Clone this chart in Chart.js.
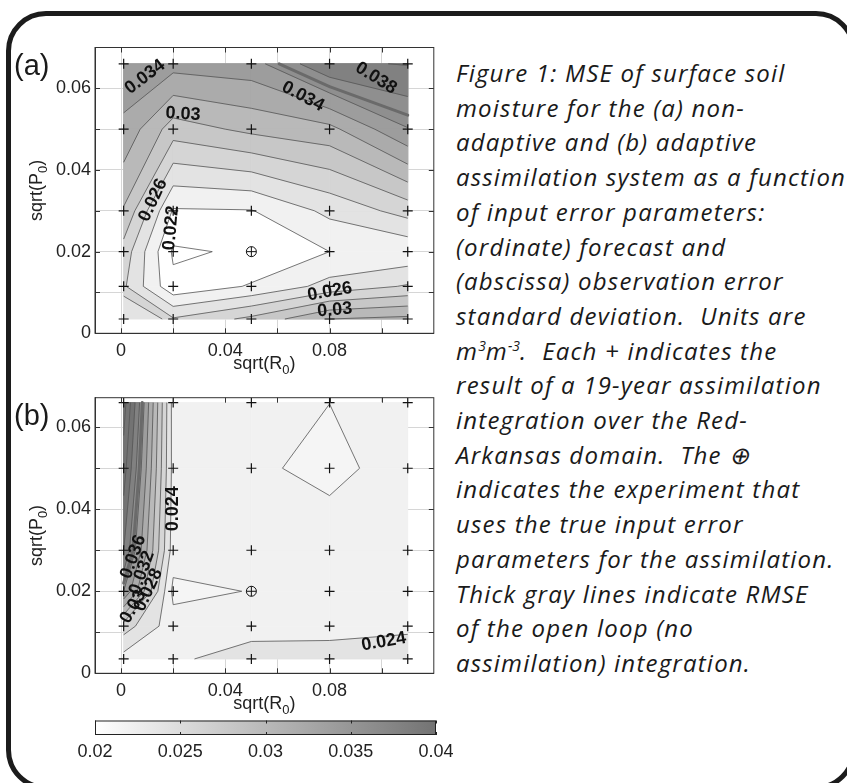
<!DOCTYPE html>
<html>
<head>
<meta charset="utf-8">
<script src="https://cdn.jsdelivr.net/npm/chart.js@4.4.0/dist/chart.umd.min.js"></script>
<style>
  html, body { margin: 0; padding: 0; background: #fff; overflow: hidden; }
  #page { position: absolute; left: 0; top: 0; width: 847px; height: 783px; overflow: hidden; }
  #frame { position: absolute; left: 0; top: 0; }
  canvas { position: absolute; left: 0; }
  #cA { top: 0; } #cB { top: 350px; } #cBar { top: 700px; }
  #caption { position: absolute; left: 456px; top: 56px; font-family: "Open Sans", sans-serif; font-style: italic;
             font-size: 24px; letter-spacing: 1.2px; line-height: 34.7px; color: #1a1a1a; white-space: pre; }
  #caption sup { font-size: 14px; line-height: 0; vertical-align: 9px; letter-spacing: 0; }
</style>
</head>
<body>
<div id="page">
<svg id="frame" width="847" height="783"><rect x="8.5" y="13.5" width="845" height="774" rx="37.5" ry="37.5" fill="none" stroke="#1c1c1c" stroke-width="5"/></svg>
<canvas id="cA" width="440" height="380"></canvas>
<canvas id="cB" width="440" height="380"></canvas>
<canvas id="cBar" width="480" height="70"></canvas>
<div id="caption"><div>Figure 1: MSE of surface soil</div><div>moisture for the (a) non-</div><div>adaptive and (b) adaptive</div><div>assimilation system as a function</div><div>of input error parameters:</div><div>(ordinate) forecast and</div><div>(abscissa) observation error</div><div>standard deviation.  Units are</div><div>m<sup>3</sup>m<sup>-3</sup>.  Each + indicates the</div><div>result of a 19-year assimilation</div><div>integration over the Red-</div><div>Arkansas domain.  The ⊕</div><div>indicates the experiment that</div><div>uses the true input error</div><div>parameters for the assimilation.</div><div>Thick gray lines indicate RMSE</div><div>of the open loop (no</div><div>assimilation) integration.</div></div>
</div>
<script>
// experiment grid: sqrt(R0) (abscissa) and sqrt(P0) (ordinate)
const xNodes = [0.001, 0.02, 0.05, 0.08, 0.11];
const yNodes = [0.0035, 0.0115, 0.02, 0.03, 0.05, 0.066];
const trueR = 0.05, trueP = 0.02;

// MSE, one row per sqrt(P0) value (bottom to top), columns follow xNodes
// (a) non-adaptive
const mseA_p0035 = [0.0253, 0.0262, 0.0285, 0.0320, 0.0325];
const mseA_p0115 = [0.0263, 0.0205, 0.0222, 0.0247, 0.0262];
const mseA_p020  = [0.0272, 0.0197, 0.0203, 0.0220, 0.0224];
const mseA_p030  = [0.0298, 0.0218, 0.0219, 0.0245, 0.0268];
const mseA_p050  = [0.0335, 0.0290, 0.0305, 0.0314, 0.0359];
const mseA_p066  = [0.0355, 0.0348, 0.0352, 0.0397, 0.0401];
// (b) adaptive
const mseB_p0035 = [0.0232, 0.0237, 0.0248, 0.0249, 0.0252];
const mseB_p0115 = [0.0270, 0.0228, 0.0233, 0.0233, 0.0236];
const mseB_p020  = [0.0360, 0.0215, 0.02207, 0.0228, 0.0232];
const mseB_p030  = [0.0400, 0.0230, 0.0228, 0.0230, 0.0232];
const mseB_p050  = [0.0430, 0.0233, 0.02233, 0.0215, 0.0228];
const mseB_p066  = [0.0450, 0.0232, 0.0226, 0.02201, 0.0228];

const contourLevels = [0.020, 0.022, 0.024, 0.026, 0.028, 0.030, 0.032, 0.034, 0.036, 0.038, 0.040, 0.042, 0.044, 0.046];
const openLoop = 0.0368;

// tick labels
const xGridLines = [0, 0.02, 0.04, 0.06, 0.08, 0.10];
const xTickLabels = [0, 0.04, 0.08];
const yGridLines = [0, 0.01, 0.02, 0.03, 0.04, 0.05, 0.06];
const yTickLabels = [0, 0.02, 0.04, 0.06];
const colorbarTicks = [0.02, 0.025, 0.03, 0.035, 0.04];

// contour labels (text, x, y, angle)
const labelsA = [
  ['0.034', 0.0092, 0.0628, -37], ['0.034', 0.0698, 0.0580, 28], ['0.038', 0.0978, 0.0625, 32],
  ['0.03', 0.0238, 0.0537, 3], ['0.026', 0.0123, 0.0326, -65], ['0.022', 0.0192, 0.0258, -85],
  ['0.026', 0.0801, 0.0102, -10], ['0.03', 0.082, 0.0057, -5]
];
const labelsB = [
  ['0.024', 0.0199, 0.0401, -90], ['0.024', 0.1008, 0.0077, -10],
  ['0.036', 0.0047, 0.0284, -70], ['0.032', 0.008, 0.0245, -70], ['0.028', 0.0105, 0.0203, -65], ['0.03', 0.0047, 0.0162, -60]
];

Chart.defaults.font.family = '"Liberation Sans", Arial, sans-serif';
Chart.defaults.color = '#222';

const shade = v => {
  const g = Math.round(Math.max(115, Math.min(255, 255 - (v - 0.02) * 7000)));
  return `rgb(${g},${g},${g})`;
};
const near = (list, v) => list.some(t => Math.abs(t - v) < 1e-9);
const fmt = v => v === 0 ? '0' : String(+v.toFixed(3));

// part of a grid cell where the field is >= L (edges interpolated linearly, as contourf does)
function clipAbove(cell, L) {
  const out = [];
  for (let k = 0; k < cell.length; k++) {
    const a = cell[k], b = cell[(k + 1) % cell.length];
    const ain = a.v >= L, bin = b.v >= L;
    if (ain) out.push(a);
    if (ain !== bin) {
      const s = (L - a.v) / (b.v - a.v);
      out.push({ px: a.px + s * (b.px - a.px), py: a.py + s * (b.py - a.py), v: L, cut: true });
    }
  }
  return out;
}
// contour segments = consecutive cut points of the clipped polygon
function segments(cell, L) {
  const p = clipAbove(cell, L), segs = [];
  if (p.length < 3) return segs;
  for (let k = 0; k < p.length; k++) {
    const a = p[k], b = p[(k + 1) % p.length];
    if (a.cut && b.cut) segs.push([a, b]);
  }
  return segs;
}

function drawTitle(ctx, x, y, rot, main, sub) {
  ctx.save();
  ctx.translate(x, y); ctx.rotate(rot);
  ctx.fillStyle = '#222'; ctx.textBaseline = 'alphabetic';
  ctx.font = '18px "Liberation Sans", Arial';
  const w1 = ctx.measureText(main).width, w2 = ctx.measureText(')').width;
  ctx.font = '13px "Liberation Sans", Arial';
  const ws = ctx.measureText(sub).width;
  let cx = -(w1 + ws + w2) / 2;
  ctx.font = '18px "Liberation Sans", Arial';
  ctx.fillText(main, cx, 6); cx += w1;
  ctx.font = '13px "Liberation Sans", Arial';
  ctx.fillText(sub, cx, 11); cx += ws;
  ctx.font = '18px "Liberation Sans", Arial';
  ctx.fillText(')', cx, 6);
  ctx.restore();
}

function contourPlugin(rows, notes, tag) {
  return {
    id: 'contour',
    beforeDatasetsDraw(chart) {
      const ctx = chart.ctx, sx = chart.scales.x, sy = chart.scales.y;
      const nodes = rows.map((row, j) => row.map((v, i) => ({ px: sx.getPixelForValue(xNodes[i]), py: sy.getPixelForValue(yNodes[j]), v })));
      const cells = [];
      for (let j = 0; j < nodes.length - 1; j++) {
        for (let i = 0; i < xNodes.length - 1; i++) {
          cells.push([nodes[j][i], nodes[j][i + 1], nodes[j + 1][i + 1], nodes[j + 1][i]]);
        }
      }
      ctx.save();
      // base fill takes the colour of the field minimum, like contourf
      const vMin = Math.min(...rows.flat());
      const x0 = nodes[0][0].px, x1 = nodes[0][xNodes.length - 1].px;
      const y0 = nodes[0][0].py, y1 = nodes[nodes.length - 1][0].py;
      ctx.fillStyle = shade(vMin);
      ctx.fillRect(x0, y1, x1 - x0, y0 - y1);
      contourLevels.filter(L => L > vMin).forEach(L => {
        ctx.fillStyle = ctx.strokeStyle = shade(L);
        ctx.lineWidth = 0.7;
        cells.forEach(c => {
          const p = clipAbove(c, L);
          if (p.length < 3) return;
          ctx.beginPath();
          p.forEach((q, k) => k ? ctx.lineTo(q.px, q.py) : ctx.moveTo(q.px, q.py));
          ctx.closePath(); ctx.fill(); ctx.stroke();
        });
      });
      // contour lines
      ctx.strokeStyle = '#555'; ctx.lineWidth = 0.8;
      ctx.beginPath();
      contourLevels.forEach(L => cells.forEach(c => segments(c, L).forEach(([a, b]) => {
        ctx.moveTo(a.px, a.py); ctx.lineTo(b.px, b.py);
      })));
      ctx.stroke();
      // open loop line
      ctx.strokeStyle = '#6a6a6a'; ctx.lineWidth = 3; ctx.lineCap = 'round';
      ctx.beginPath();
      cells.forEach(c => segments(c, openLoop).forEach(([a, b]) => {
        ctx.moveTo(a.px, a.py); ctx.lineTo(b.px, b.py);
      }));
      ctx.stroke();
      // labels
      ctx.fillStyle = '#111'; ctx.font = 'bold 18px "Liberation Sans", Arial';
      ctx.textAlign = 'center'; ctx.textBaseline = 'middle';
      notes.forEach(([t, x, y, a]) => {
        ctx.save();
        ctx.translate(sx.getPixelForValue(x), sy.getPixelForValue(y));
        ctx.rotate(a * Math.PI / 180);
        ctx.fillText(t, 0, 0);
        ctx.restore();
      });
      ctx.restore();
    },
    afterDraw(chart) {
      const ctx = chart.ctx, a = chart.chartArea, sx = chart.scales.x, sy = chart.scales.y;
      ctx.save();
      ctx.strokeStyle = '#333'; ctx.lineWidth = 1;
      ctx.strokeRect(a.left, a.top, a.right - a.left, a.bottom - a.top);
      ctx.beginPath();
      xGridLines.forEach(v => {
        const p = Math.round(sx.getPixelForValue(v)) + 0.5;
        ctx.moveTo(p, a.bottom); ctx.lineTo(p, a.bottom - 5);
        ctx.moveTo(p, a.top); ctx.lineTo(p, a.top + 5);
      });
      yGridLines.forEach(v => {
        const p = Math.round(sy.getPixelForValue(v)) + 0.5;
        ctx.moveTo(a.left, p); ctx.lineTo(a.left + 5, p);
        ctx.moveTo(a.right, p); ctx.lineTo(a.right - 5, p);
      });
      ctx.stroke();
      drawTitle(ctx, (a.left + a.right) / 2, a.bottom + 30, 0, 'sqrt(R', '0');
      drawTitle(ctx, 36, (a.top + a.bottom) / 2, -Math.PI / 2, 'sqrt(P', '0');
      ctx.fillStyle = '#1a1a1a'; ctx.font = '29px "Liberation Sans", Arial';
      ctx.textAlign = 'left'; ctx.textBaseline = 'alphabetic';
      ctx.fillText(tag, 14, a.top + 27);
      ctx.restore();
    }
  };
}

function panelChart(id, rows, notes, tag, yMax, padTop, xHeight) {
  const crosses = [];
  yNodes.forEach(y => xNodes.forEach(x => { if (!(x === trueR && y === trueP)) crosses.push({ x, y }); }));
  return new Chart(document.getElementById(id), {
    type: 'scatter',
    data: {
      datasets: [
        { data: crosses, pointStyle: 'cross', radius: 5, borderColor: '#111', borderWidth: 1.2 },
        { data: [{ x: trueR, y: trueP }], pointStyle: 'circle', radius: 5, borderColor: '#111', borderWidth: 1, backgroundColor: 'rgba(0,0,0,0)' },
        { data: [{ x: trueR, y: trueP }], pointStyle: 'cross', radius: 5, borderColor: '#111', borderWidth: 1 }
      ]
    },
    options: {
      responsive: false, animation: false, events: [],
      layout: { padding: { top: padTop, right: 6, left: 0, bottom: 0 } },
      plugins: { legend: { display: false }, tooltip: { enabled: false } },
      scales: {
        x: {
          type: 'linear', min: -0.01, max: 0.12,
          afterBuildTicks: s => { s.ticks = xGridLines.map(v => ({ value: v })); },
          afterFit: s => { s.height = xHeight; },
          ticks: { callback: v => near(xTickLabels, v) ? fmt(v) : '', font: { size: 18 }, padding: 7, maxRotation: 0, autoSkip: false },
          grid: { color: '#d6d6d6', drawTicks: false },
          border: { color: '#333' }
        },
        y: {
          type: 'linear', min: 0, max: yMax,
          afterBuildTicks: s => { s.ticks = yGridLines.map(v => ({ value: v })); },
          afterFit: s => { s.width = 95; },
          ticks: { callback: v => near(yTickLabels, v) ? fmt(v) : '', font: { size: 18 }, padding: 4, autoSkip: false },
          grid: { color: '#d6d6d6', drawTicks: false },
          border: { color: '#333' }
        }
      }
    },
    plugins: [contourPlugin(rows, notes, tag)]
  });
}

panelChart('cA', [mseA_p0035, mseA_p0115, mseA_p020, mseA_p030, mseA_p050, mseA_p066], labelsA, '(a)', 0.07, 47.5, 46.7);
panelChart('cB', [mseB_p0035, mseB_p0115, mseB_p020, mseB_p030, mseB_p050, mseB_p066], labelsB, '(b)', 0.0672, 47.7, 56.7);

// colorbar
new Chart(document.getElementById('cBar'), {
  type: 'scatter',
  data: { datasets: [{ data: [] }] },
  options: {
    responsive: false, animation: false, events: [],
    layout: { padding: { top: 20.5, right: 44, left: 95, bottom: 0 } },
    plugins: { legend: { display: false }, tooltip: { enabled: false } },
    scales: {
      x: {
        type: 'linear', min: 0.02, max: 0.04,
        afterBuildTicks: s => { s.ticks = colorbarTicks.map(v => ({ value: v })); },
        afterFit: s => { s.height = 35; },
        ticks: { callback: v => fmt(v), font: { size: 18 }, padding: 6, maxRotation: 0, autoSkip: false },
        grid: { display: false, drawTicks: false },
        border: { display: false }
      },
      y: { display: false, min: 0, max: 1 }
    }
  },
  plugins: [{
    id: 'colorbar',
    beforeDatasetsDraw(chart) {
      const ctx = chart.ctx, a = chart.chartArea, sx = chart.scales.x;
      ctx.save();
      const g = ctx.createLinearGradient(a.left, 0, a.right, 0);
      g.addColorStop(0, shade(0.02)); g.addColorStop(1, shade(0.04));
      ctx.fillStyle = g;
      ctx.fillRect(a.left, a.top, a.right - a.left, a.bottom - a.top);
      ctx.strokeStyle = '#222'; ctx.lineWidth = 1;
      ctx.strokeRect(a.left + 0.5, a.top + 0.5, a.right - a.left - 1, a.bottom - a.top - 1);
      ctx.beginPath();
      colorbarTicks.forEach(v => {
        const p = Math.round(sx.getPixelForValue(v)) + 0.5;
        ctx.moveTo(p, a.top); ctx.lineTo(p, a.top + 3);
        ctx.moveTo(p, a.bottom); ctx.lineTo(p, a.bottom - 3);
      });
      ctx.stroke();
      ctx.restore();
    }
  }]
});
</script>
</body>
</html>
